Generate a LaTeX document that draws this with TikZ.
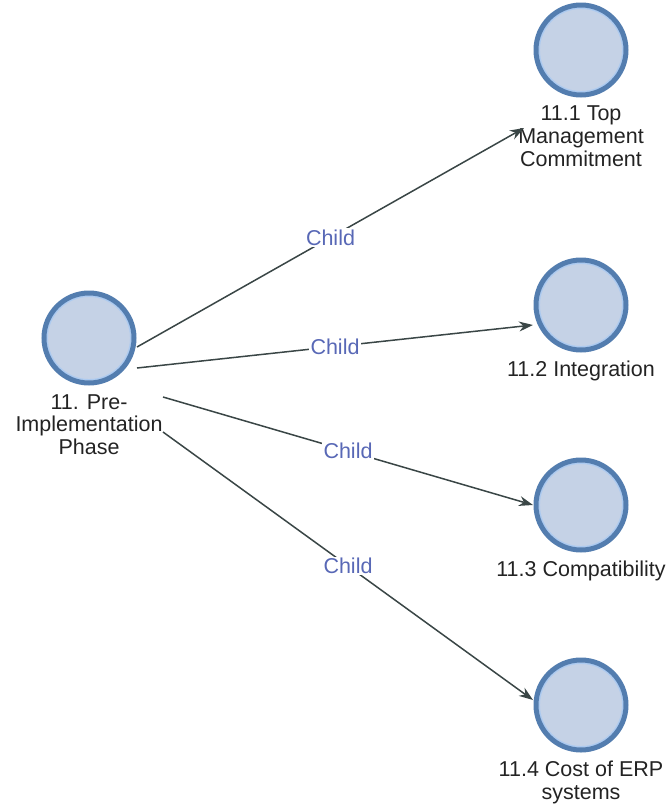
\documentclass[tikz,border=0pt]{standalone}
\usepackage{fontspec}
\setmainfont{Liberation Sans}
\usetikzlibrary{positioning, arrows.meta}

\definecolor{ringblue}{RGB}{83,125,175}
\definecolor{innerblue}{RGB}{172,202,240}
\definecolor{discfill}{RGB}{197,210,230}
\definecolor{edgegrey}{RGB}{58,70,70}
\definecolor{linkblue}{RGB}{88,104,182}
\definecolor{textgrey}{RGB}{35,35,35}

\begin{document}
\begin{tikzpicture}[
    x=1pt, y=-1pt,
    disc/.style={
        circle,
        draw=ringblue,
        fill=discfill,
        line width=5pt,
        minimum size=90pt,
        inner sep=0pt,
        path picture={
            \draw[innerblue, line width=1.5pt]
                (path picture bounding box.center) circle (41.8pt);
        }
    },
    nodetext/.style={
        align=center,
        inner sep=0pt,
        text=textgrey,
        font=\fontsize{21.5}{23}\selectfont
    },
    childedge/.style={
        -{Stealth[length=14pt, width=10pt]},
        draw=edgegrey,
        fill=edgegrey,
        line width=1.5pt
    },
    linklabel/.style={
        fill=white,
        inner sep=1.5pt,
        text=linkblue,
        font=\fontsize{21.5}{23}\selectfont
    }
]

% ===== bounding box =====
\useasboundingbox (0,0) rectangle (670,804);

% ===== parent node =====
\node[disc] (pre) at (89,338) {};
\node[nodetext, below=8.5pt of pre] (pretext) {11. Pre-\\Implementation\\Phase};

% ===== child nodes =====
\node[disc] (top) at (581,50) {};
\node[nodetext, below=8.5pt of top] (toptext) {11.1 Top\\Management\\Commitment};

\node[disc] (integ) at (581,305) {};
\node[nodetext, below=8.5pt of integ] (integtext) {11.2 Integration};

\node[disc] (compat) at (581,505) {};
\node[nodetext, below=8.5pt of compat] (compattext) {11.3 Compatibility};

\node[disc] (cost) at (581,705) {};
\node[nodetext, below=8.5pt of cost] (costtext) {11.4 Cost of ERP\\systems};

% ===== child links =====
\foreach \dst/\sx/\sy/\ex/\ey in {top/48/9/-57/78, integ/48/30/-48/20, compat/74/59/-48/0, cost/74/94/-48/-5} {
    \draw[childedge] ([shift={(\sx,\sy)}]pre.center) -- node[linklabel] {Child} ([shift={(\ex,\ey)}]\dst.center);
}

\end{tikzpicture}
\end{document}
